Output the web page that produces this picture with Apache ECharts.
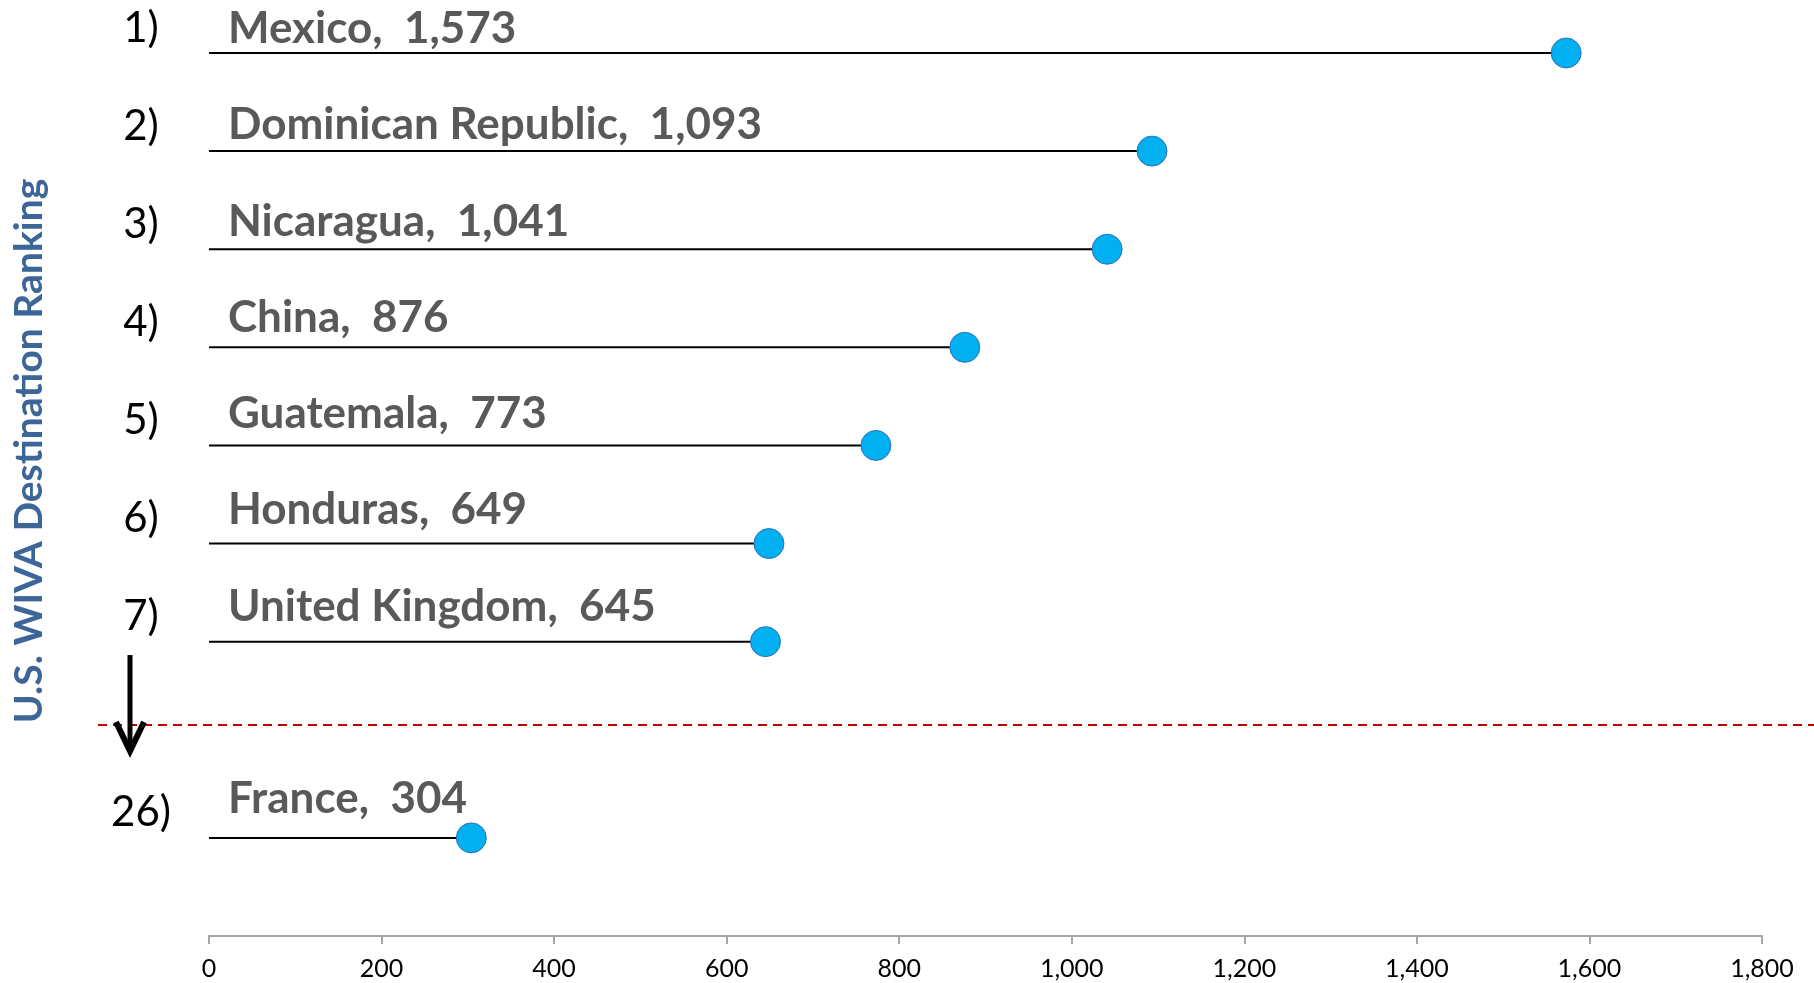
<!DOCTYPE html>
<html>
<head>
<meta charset="utf-8">
<script src="https://cdn.jsdelivr.net/npm/echarts@6/dist/echarts.min.js"></script>
<style>
  html, body { margin: 0; padding: 0; background: #fff; }
  #chart { width: 1814px; height: 983px; }
</style>
</head>
<body>
<div id="chart"></div>
<script>
  // rows top to bottom, the empty slots are the gap before France and the space above the axis
  var ranks = ['1)', '2)', '3)', '4)', '5)', '6)', '7)', '', '26)', ''];
  var countries = ['Mexico', 'Dominican Republic', 'Nicaragua', 'China', 'Guatemala', 'Honduras', 'United Kingdom', '', 'France', ''];
  var values = [1573, 1093, 1041, 876, 773, 649, 645, '-', 304, '-'];
  var xTicks = [0, 200, 400, 600, 800, 1000, 1200, 1400, 1600, 1800];

  var chart = echarts.init(document.getElementById('chart'));

  var dots = [];
  values.forEach(function (v, i) {
    if (v !== '-') dots.push([v, i]);
  });

  // the name labels sit a bit higher above their stem the further down the row is
  var stems = values.map(function (v, i) {
    return { value: v, label: { position: [19, -1 - 1.85 * i] } };
  });

  chart.setOption({
    animation: false,
    grid: { left: 209, right: 52, top: 53, bottom: 47 },
    xAxis: {
      type: 'value',
      min: xTicks[0],
      max: xTicks[xTicks.length - 1],
      interval: 200,
      axisLine: { show: true, lineStyle: { color: '#A6A6A6', width: 2 } },
      axisTick: { show: true, length: 8, lineStyle: { color: '#A6A6A6', width: 2 } },
      splitLine: { show: false },
      axisLabel: {
        color: '#000',
        fontFamily: 'Lato',
        fontSize: 25,
        margin: 20
      }
    },
    yAxis: {
      type: 'category',
      data: ranks,
      inverse: true,
      boundaryGap: false,
      axisLine: { show: false },
      axisTick: { show: false },
      splitLine: { show: false },
      axisLabel: {
        interval: 0,
        color: '#000',
        fontFamily: 'Lato',
        fontSize: 42,
        align: 'center',
        verticalAlign: 'bottom',
        margin: 68,
        padding: [0, 0, 4, 0]
      }
    },
    series: [
      {
        type: 'bar',
        data: stems,
        barWidth: 2,
        itemStyle: { color: '#000' },
        label: {
          show: true,
          align: 'left',
          verticalAlign: 'bottom',
          color: '#595959',
          fontFamily: 'Lato',
          fontWeight: 'bold',
          fontSize: 44,
          formatter: function (p) {
            return countries[p.dataIndex] + ',  ' + p.value.toLocaleString('en-US');
          }
        },
        z: 2
      },
      {
        type: 'scatter',
        data: dots,
        symbolSize: 30,
        itemStyle: { color: '#00B0F0', borderColor: '#2F6EBA', borderWidth: 1, opacity: 1 },
        z: 3
      }
    ]
  });

  function drawExtras() {
    var row6 = chart.convertToPixel({ yAxisIndex: 0 }, 6);
    var row8 = chart.convertToPixel({ yAxisIndex: 0 }, 8);
    var sepY = row6 + (row8 - row6) * 0.425;
    var ax = 130;
    chart.setOption({
      graphic: [
        {
          type: 'line',
          shape: { x1: 98, y1: sepY, x2: 1814, y2: sepY },
          style: { stroke: '#C00000', lineWidth: 2, lineDash: [9, 6] },
          z: 1
        },
        {
          type: 'line',
          shape: { x1: ax, y1: sepY - 70, x2: ax, y2: sepY + 24 },
          style: { stroke: '#000', lineWidth: 5 },
          z: 5
        },
        {
          type: 'polyline',
          shape: { points: [[ax - 14, sepY - 3], [ax, sepY + 26], [ax + 14, sepY - 3]] },
          style: { stroke: '#000', fill: null, lineWidth: 6, lineJoin: 'miter' },
          z: 5
        },
        {
          type: 'text',
          x: 29,
          y: 451,
          rotation: Math.PI / 2,
          style: {
            text: 'U.S. WIVA Destination Ranking',
            fill: '#3C6598',
            font: 'bold 39px Lato',
            align: 'center',
            verticalAlign: 'middle'
          }
        }
      ]
    });
  }
  drawExtras();
</script>
</body>
</html>
